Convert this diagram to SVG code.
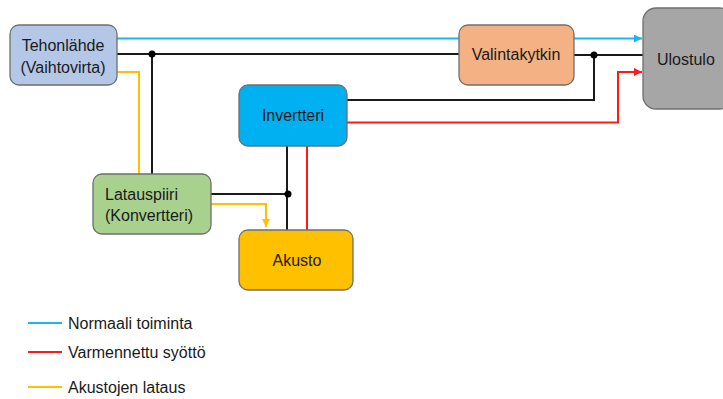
<svg xmlns="http://www.w3.org/2000/svg" width="723" height="399" viewBox="0 0 723 399">
<style>
.box{stroke:#6f6f6f;stroke-width:1.3}
.t{font-family:"Liberation Sans",Arial,sans-serif;font-size:16px;fill:#1a1a1a}
.c{text-anchor:middle}
.k{stroke:#1a1a1a;stroke-width:2;fill:none}
.b{stroke:#1fb4f0;stroke-width:2;fill:none}
.r{stroke:#ff1a1a;stroke-width:2;fill:none}
.y{stroke:#ffc000;stroke-width:2;fill:none}
</style>
<defs>
<marker id="ab" viewBox="0 0 10 10" refX="10" refY="5" markerWidth="4" markerHeight="4" orient="auto" markerUnits="strokeWidth"><path d="M0,0L10,5L0,10z" fill="#1fb4f0"/></marker>
<marker id="ar" viewBox="0 0 10 10" refX="10" refY="5" markerWidth="4" markerHeight="4" orient="auto" markerUnits="strokeWidth"><path d="M0,0L10,5L0,10z" fill="#ff1a1a"/></marker>
<marker id="ay" viewBox="0 0 10 10" refX="10" refY="5" markerWidth="4" markerHeight="4" orient="auto" markerUnits="strokeWidth"><path d="M0,0L10,5L0,10z" fill="#ffc000"/></marker>
</defs>
<rect width="723" height="399" fill="#ffffff"/>
<g id="connectors">
<path class="b" d="M117,38.5H459"/>
<path class="b" d="M574,38.5H642" marker-end="url(#ab)"/>
<path class="k" d="M117,54H459"/>
<path class="k" d="M574,55H643"/>
<path class="k" d="M347,100H594V55"/>
<path class="k" d="M152,54V174"/>
<path class="y" d="M117,72H139V174"/>
<path class="r" d="M347,122.5H618V72H642" marker-end="url(#ar)"/>
<path class="k" d="M287,146V230"/>
<path class="r" d="M307,146V230"/>
<path class="k" d="M211,194H287"/>
<path class="y" d="M211,204H266V227" marker-end="url(#ay)"/>
<circle cx="152" cy="54" r="3.5" fill="#000"/>
<circle cx="594" cy="55" r="3.5" fill="#000"/>
<circle cx="288" cy="194" r="3.5" fill="#000"/>
</g>
<g id="tehonlahde">
<rect class="box" x="10" y="25" width="107" height="60" rx="9" fill="#b4c7e7"/>
<text class="t c" x="63" y="51">Tehonlähde</text>
<text class="t c" x="63" y="73">(Vaihtovirta)</text>
</g>
<g id="valintakytkin">
<rect class="box" x="459" y="25" width="115" height="60" rx="9" fill="#f4b183"/>
<text class="t c" x="516" y="60">Valintakytkin</text>
</g>
<g id="ulostulo">
<rect class="box" x="643" y="8" width="90" height="101" rx="13" fill="#a6a6a6"/>
<text class="t" x="657" y="65">Ulostulo</text>
</g>
<g id="invertteri">
<rect class="box" x="239" y="85" width="108" height="61" rx="9" fill="#00b0f0"/>
<text class="t c" x="293" y="121">Invertteri</text>
</g>
<g id="latauspiiri">
<rect class="box" x="93" y="174" width="118" height="60" rx="9" fill="#a9d18e"/>
<text class="t" x="105" y="200">Latauspiiri</text>
<text class="t" x="105" y="221">(Konvertteri)</text>
</g>
<g id="akusto">
<rect class="box" x="239" y="230" width="114" height="60" rx="9" fill="#ffc000"/>
<text class="t c" x="297" y="266">Akusto</text>
</g>
<g id="legend">
<path class="b" d="M28,323H62"/>
<text class="t" x="68" y="329">Normaali toiminta</text>
<path class="r" d="M28,352H62"/>
<text class="t" x="68" y="358">Varmennettu syöttö</text>
<path class="y" d="M28,387H62"/>
<text class="t" x="68" y="393">Akustojen lataus</text>
</g>
</svg>
